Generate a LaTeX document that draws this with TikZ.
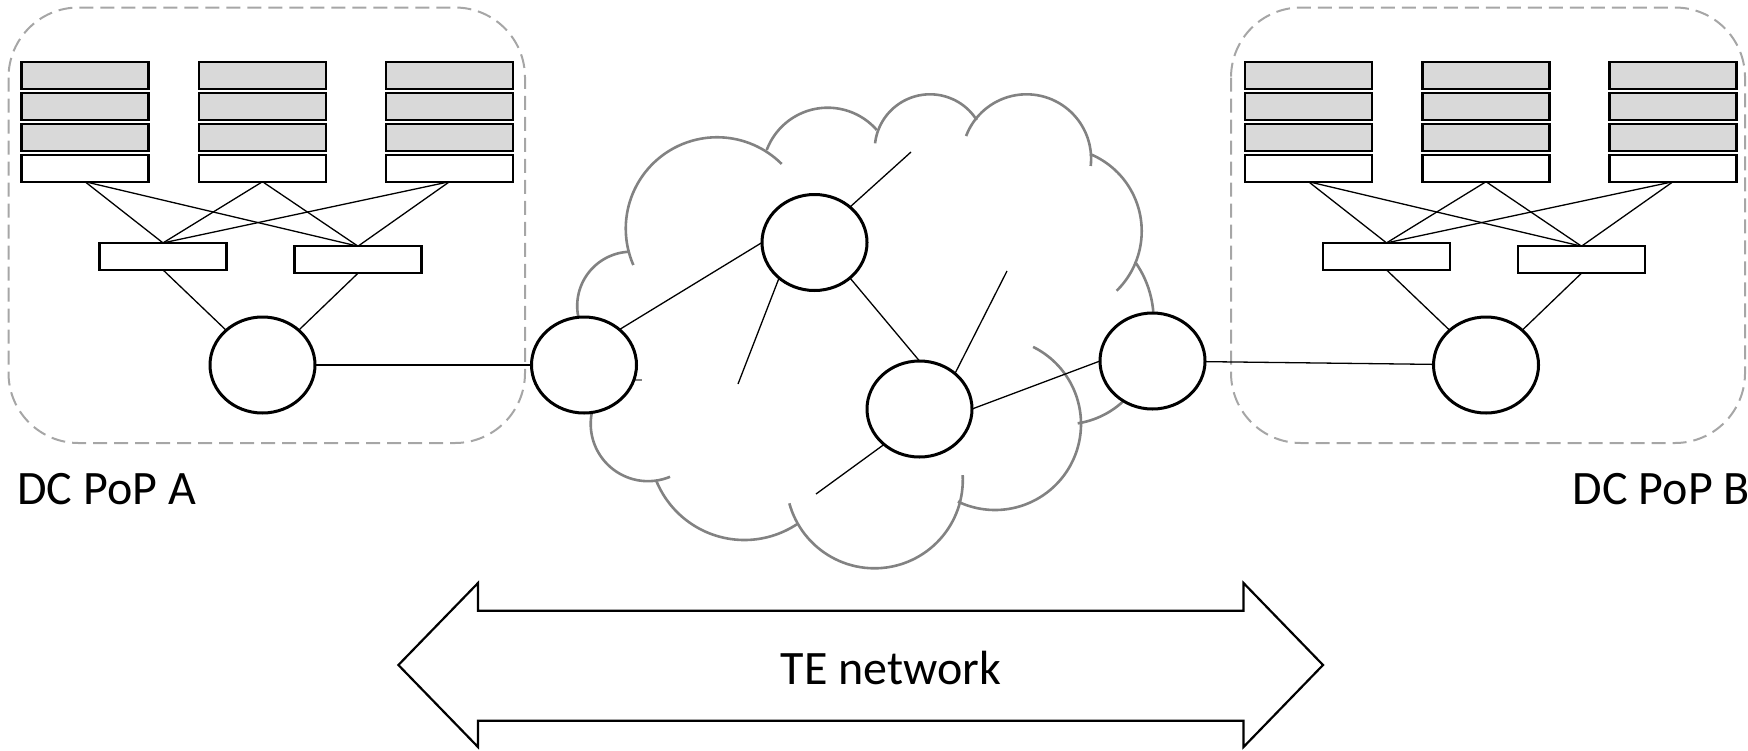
\documentclass[tikz,border=0pt]{standalone}
\usepackage{fontspec}
\setmainfont{Carlito}
\usetikzlibrary{shapes.geometric}
\definecolor{srvgray}{HTML}{D9D9D9}
\definecolor{dashgray}{HTML}{A6A6A6}
\definecolor{cloudgray}{HTML}{828282}
\newcommand\cloudarc[5]{\draw[cloudline] plot[domain=#4:#5, samples=60, smooth] ({#1+#3*cos(\x)},{#2+#3*sin(\x)});}
\begin{document}
\begin{tikzpicture}[x=0.5pt,y=-0.5pt,
  dcbox/.style={draw=dashgray, line width=1pt, dash pattern=on 7pt off 3.5pt, rounded corners=35pt},
  srv/.style={draw=black, line width=1.1pt, fill=srvgray, minimum width=63.5pt, minimum height=13.5pt, inner sep=0pt, outer sep=0pt},
  tor/.style={srv, fill=white},
  swbox/.style={draw=black, line width=1.2pt, fill=white, minimum width=63.5pt, minimum height=13.5pt, inner sep=0pt, outer sep=0pt},
  router/.style={ellipse, draw=black, line width=1.5pt, fill=white, minimum width=52.5pt, minimum height=48pt, inner sep=0pt, outer sep=0pt},
  link/.style={line width=0.65pt},
  cloudline/.style={draw=cloudgray, line width=1.3pt},
  lbl/.style={font=\fontsize{24}{28}\selectfont, inner sep=0pt}
]
\useasboundingbox (0,0) rectangle (1748,750);

% data centre groups
\foreach \p/\dx/\bl/\br in {A/0/8.5/525, B/1223.5/1231/1745}{
  \draw[dcbox] (\bl,7.5) rectangle (\br,443);
  \foreach \c/\cx in {1/85,2/262.5,3/449.5}{
    \node[srv] (\p-s\c-1) at ({\cx+\dx},75.5) {};
    \node[srv] (\p-s\c-2) at ({\cx+\dx},106.7) {};
    \node[srv] (\p-s\c-3) at ({\cx+\dx},137.7) {};
    \node[tor] (\p-t\c) at ({\cx+\dx},168.2) {};
  }
  \node[swbox] (\p-a1) at ({163+\dx},256.4) {};
  \node[swbox] (\p-a2) at ({358+\dx},259.7) {};
  \node[router] (\p-gw) at ({262.5+\dx},365) {};
  \foreach \c in {1,2,3}{
    \draw[link] (\p-t\c.south) -- (\p-a1.north);
    \draw[link] (\p-t\c.south) -- (\p-a2.north);
  }
  \draw[link] (\p-a1.south) -- (\p-gw);
  \draw[link] (\p-a2.south) -- (\p-gw);
}

% cloud (circular bumps)
\cloudarc{631.4}{305.9}{54.2}{168.5}{268.5}
\cloudarc{717.1}{228.6}{91.35}{156.5}{315}
\cloudarc{827.7}{172.8}{65.1}{200.5}{318.9}
\cloudarc{930}{149.6}{55.3}{186.5}{327.6}
\cloudarc{1026.5}{158.9}{64.6}{200.7}{366.3}
\cloudarc{1058.3}{231.15}{83.4}{-67.7}{45.6}
\cloudarc{1053.1}{320}{100.5}{-35.4}{-4.7}
\cloudarc{1064.7}{338.5}{85.8}{47.5}{81.3}
\cloudarc{995}{424}{86}{-63.7}{115.6}
\cloudarc{874.5}{480}{88.3}{-3.2}{164.7}
\cloudarc{744.4}{444.8}{95.2}{55.5}{157.2}
\cloudarc{648}{423.85}{57.3}{67.4}{190.6}
\draw[cloudline] (628,380) -- (642,380);

% TE network routers
\node[router] (C1) at (584,365) {};
\node[router] (C2) at (814.5,242.5) {};
\node[router] (C3) at (919.5,409) {};
\node[router] (C4) at (1152.5,361) {};

\draw[link] (A-gw) -- (C1);
\draw[link] (C1.45) -- (C2.west);
\draw[link] (C2.-45) -- (C3.north);
\draw[link] (C3.east) -- (C4.west);
\draw[link] (C4) -- (B-gw);

\coordinate (s1) at (911,152);
\coordinate (s2) at (738,384);
\coordinate (s3) at (1007,271);
\coordinate (s4) at (816,494);
\draw[link] (C2.45) -- (s1);
\draw[link] (C2.-135) -- (s2);
\draw[link] (C3.45) -- (s3);
\draw[link] (C3.-135) -- (s4);

% labels
\node[lbl, anchor=base west] (la) at (17,504) {DC PoP A};
\node[lbl, anchor=base west] (lb) at (1572.5,504) {DC PoP B};

% double arrow
\draw[line width=1.1pt, fill=white] (398.4,665) -- (478,583) -- (478,610.7) -- (1243.5,610.7) -- (1243.5,583) -- (1323,665) -- (1243.5,747) -- (1243.5,720.7) -- (478,720.7) -- (478,747) -- cycle;
\node[lbl, anchor=base] (te) at (891,684) {TE network};
\end{tikzpicture}
\end{document}
